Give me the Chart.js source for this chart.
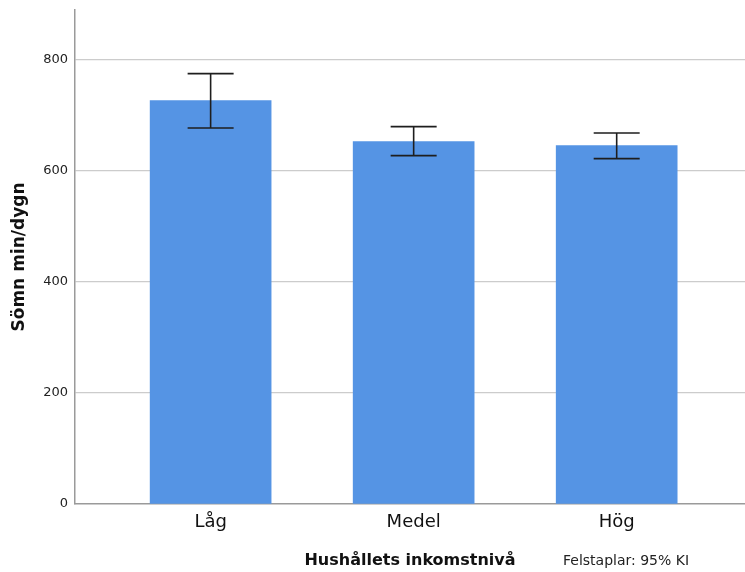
<!DOCTYPE html>
<html>
<head>
<meta charset="utf-8">
<script src="https://cdn.jsdelivr.net/npm/chart.js@4"></script>
<style>
  html, body { margin: 0; padding: 0; background: #fff; }
  #wrap { width: 745px; height: 572px; }
</style>
</head>
<body>
<div id="wrap"><canvas id="c" width="745" height="572"></canvas></div>
<script>
// Sleep minutes per day by household income level, with 95% CI
const categories = ['Låg', 'Medel', 'Hög'];
const meanSleep = [726.7, 652.8, 645.6];
const ciUpper = [775.3, 679.8, 668.5];
const ciLower = [677.5, 627.6, 622.2];
const yTicks = [0, 200, 400, 600, 800];

const FONT = '"DejaVu Sans", sans-serif';

const errorBars = {
  id: 'errorBars',
  afterDatasetsDraw(chart) {
    const { ctx, scales: { x, y } } = chart;
    ctx.save();
    ctx.strokeStyle = '#1e1e1e';
    ctx.lineWidth = 1.6;
    ctx.lineCap = 'butt';
    categories.forEach((_, i) => {
      const px = x.getPixelForValue(i);
      const hi = y.getPixelForValue(ciUpper[i]);
      const lo = y.getPixelForValue(ciLower[i]);
      ctx.beginPath();
      ctx.moveTo(px, hi); ctx.lineTo(px, lo);
      ctx.moveTo(px - 23, hi); ctx.lineTo(px + 23, hi);
      ctx.moveTo(px - 23, lo); ctx.lineTo(px + 23, lo);
      ctx.stroke();
    });
    ctx.restore();
  }
};

const titles = {
  id: 'titles',
  afterDraw(chart) {
    const { ctx, chartArea } = chart;
    ctx.save();
    ctx.fillStyle = '#111';
    ctx.textBaseline = 'middle';
    // y axis title
    ctx.save();
    ctx.translate(20, (chartArea.top + chartArea.bottom) / 2);
    ctx.rotate(-Math.PI / 2);
    ctx.textAlign = 'center';
    ctx.font = 'bold 17px ' + FONT;
    ctx.fillText('Sömn min/dygn', 0, 0);
    ctx.restore();
    // x axis title
    ctx.textAlign = 'center';
    ctx.font = 'bold 16px ' + FONT;
    ctx.fillText('Hushållets inkomstnivå', 410, 561);
    // note
    ctx.textAlign = 'left';
    ctx.font = '14px ' + FONT;
    ctx.fillStyle = '#222';
    ctx.fillText('Felstaplar: 95% KI', 563, 561);
    ctx.restore();
  }
};

new Chart(document.getElementById('c'), {
  type: 'bar',
  data: {
    datasets: [{
      data: meanSleep.map((v, i) => ({ x: i, y: v })),
      backgroundColor: '#5594e4',
      borderWidth: 0,
      barThickness: 121
    }]
  },
  options: {
    responsive: false,
    animation: false,
    layout: { padding: { top: 10, right: 0, left: 0, bottom: 0 } },
    plugins: { legend: { display: false }, tooltip: { enabled: false } },
    scales: {
      x: {
        type: 'linear',
        offset: false,
        min: -0.668,
        max: 2.632,
        afterBuildTicks: s => { s.ticks = categories.map((_, i) => ({ value: i })); },
        afterFit: s => { s.height = 68; },
        grid: { display: false, drawTicks: false, offset: false },
        border: { display: true, color: '#9a9a9a', width: 1.5 },
        ticks: {
          callback: v => categories[v] ?? '',
          font: { family: FONT, size: 18 },
          color: '#111',
          padding: 8,
          maxRotation: 0
        }
      },
      y: {
        min: 0,
        max: 890,
        afterBuildTicks: s => { s.ticks = yTicks.map(v => ({ value: v })); },
        afterFit: s => { s.width = 75; s.paddingTop = 0; s.paddingBottom = 0; },
        grid: {
          drawTicks: false,
          color: c => c.tick && c.tick.value === 0 ? 'rgba(0,0,0,0)' : '#cccccc',
          lineWidth: 1.2
        },
        border: { display: true, color: '#9a9a9a', width: 1.5 },
        ticks: {
          font: { family: FONT, size: 13 },
          color: '#222',
          padding: 7
        }
      }
    }
  },
  plugins: [errorBars, titles]
});
</script>
</body>
</html>
